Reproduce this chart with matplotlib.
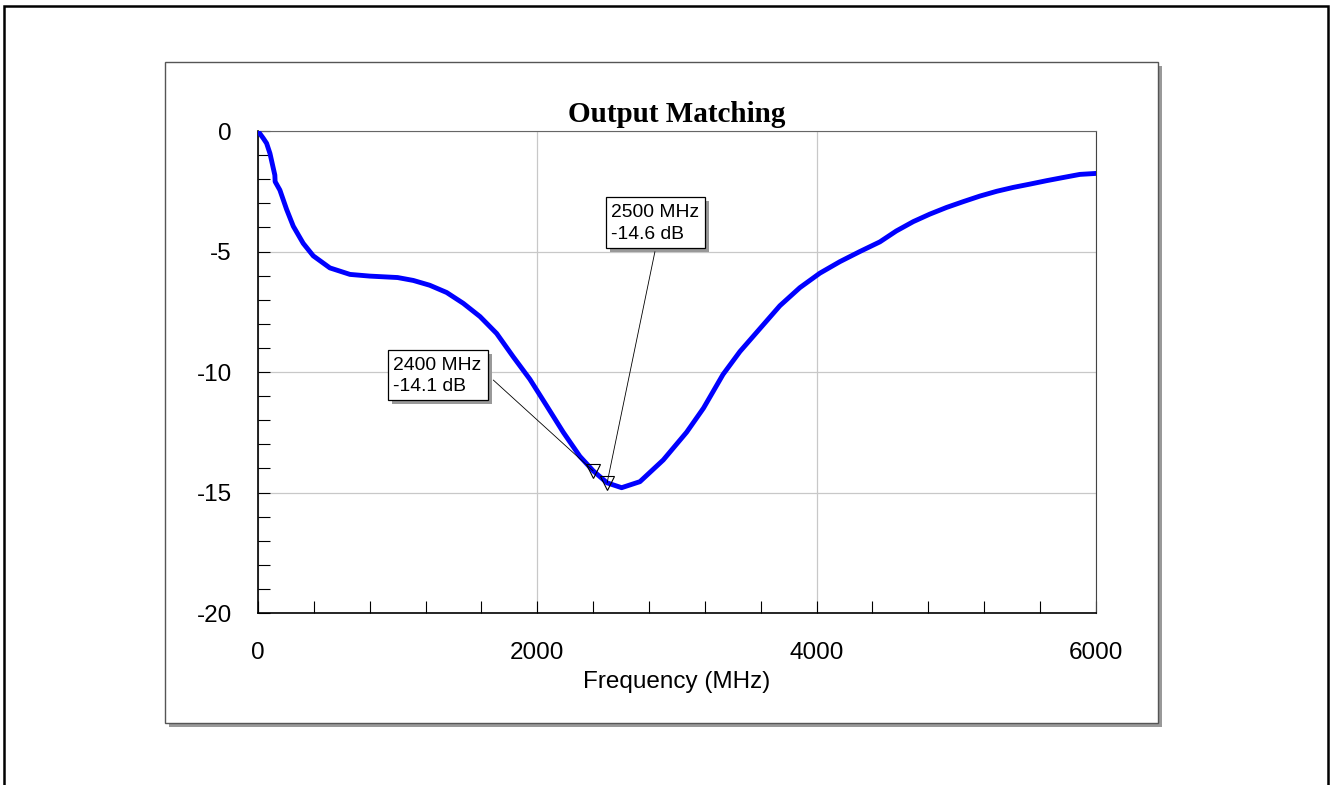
import matplotlib.pyplot as plt
from matplotlib.patches import Rectangle
from matplotlib.ticker import MultipleLocator
from matplotlib.transforms import offset_copy

plt.rcParams['font.family'] = ['Liberation Sans', 'DejaVu Sans']
plt.rcParams['axes.unicode_minus'] = False

# output return loss
freq = [0, 38, 62, 86, 110, 121, 123, 157, 205, 253, 324, 396, 515, 659, 800,
        1000, 1112, 1230, 1351, 1470, 1590, 1709, 1828, 1947, 2067, 2186,
        2305, 2400, 2500, 2604, 2735, 2902, 3069, 3190, 3260, 3330, 3451, 3594,
        3737, 3880, 4023, 4167, 4310, 4453, 4570, 4692, 4810, 4931, 5050,
        5169, 5290, 5408, 5530, 5647, 5765, 5885, 6000]
s22 = [0.0, -0.3, -0.51, -0.93, -1.55, -1.83, -2.1, -2.45, -3.25, -3.95, -4.66,
       -5.18, -5.68, -5.95, -6.02, -6.08, -6.2, -6.4, -6.7, -7.15, -7.7, -8.4,
       -9.37, -10.3, -11.4, -12.5, -13.5, -14.1, -14.6, -14.8, -14.55, -13.65,
       -12.5, -11.5, -10.8, -10.1, -9.15, -8.2, -7.25, -6.5, -5.9, -5.42, -5.0,
       -4.6, -4.15, -3.76, -3.45, -3.17, -2.93, -2.70, -2.50, -2.34, -2.2, -2.06,
       -1.93, -1.80, -1.76]

mark_freq = [2400, 2500]
mark_db = [-14.1, -14.6]

xticks = [0, 2000, 4000, 6000]
yticks = [0, -5, -10, -15, -20]

fig = plt.figure(figsize=(13.31, 7.85), dpi=100)

# outer frame and the grey panel with its drop shadow
fig.patches.append(Rectangle((0.003, -0.02), 0.9947, 1.0124, transform=fig.transFigure,
                             fill=False, ec='black', lw=1.8, zorder=-1))
shadow_tr = offset_copy(fig.transFigure, fig, x=4, y=-4, units='dots')
fig.patches.append(Rectangle((0.12397, 0.07898), 0.74568, 0.84204, transform=shadow_tr,
                             fc='#999999', ec='none', zorder=-3))
fig.patches.append(Rectangle((0.12397, 0.07898), 0.74568, 0.84204, transform=fig.transFigure,
                             fc='white', ec='#555555', lw=1, zorder=-2))

ax = fig.add_axes([0.1938, 0.2191, 0.6296, 0.6140])
ax.plot(freq, s22, color='#0000ff', lw=3.5, solid_joinstyle='round', zorder=3)
ax.plot(mark_freq, mark_db, 'v', ms=9.5, mfc='none', mec='black', mew=0.8, zorder=4)

ax.set_xlim(0, 6000)
ax.set_ylim(-20, 0)
ax.set_xticks(xticks)
ax.set_yticks(yticks)
ax.xaxis.set_minor_locator(MultipleLocator(400))
ax.yaxis.set_minor_locator(MultipleLocator(1))
ax.grid(which='major', color='#c8c8c8', lw=0.9)
ax.set_axisbelow(True)
ax.tick_params(which='both', direction='in', length=8.6, width=0.8, color='black',
               top=False, right=False, labelsize=17.5)
ax.tick_params(axis='y', which='both', pad=18.7)
ax.tick_params(axis='x', which='both', pad=21)

for s in ['left', 'bottom']:
    ax.spines[s].set_color('black')
    ax.spines[s].set_linewidth(1.2)
ax.spines['top'].set_color('#666666')
ax.spines['right'].set_color('#444444')

ax.set_title('Output Matching', fontfamily='Liberation Serif', fontweight='bold',
             fontsize=21, pad=6.7)
ax.set_xlabel('Frequency (MHz)', fontsize=17.5, labelpad=5)

# marker readout boxes
box_pos = [(0.1551, 0.4419, 0.1194, 0.1037), (0.4149, 0.7566, 0.1185, 0.1071)]
leader_from = [(0.2808, 0.4834), (0.4737, 0.7496)]
box_shadow = offset_copy(ax.transAxes, fig, x=4, y=-4, units='dots')
text_tr = offset_copy(ax.transAxes, fig, x=5, y=-1, units='dots')
for i in range(len(mark_freq)):
    bx, by, bw, bh = box_pos[i]
    ax.add_patch(Rectangle((bx, by), bw, bh, transform=box_shadow, fc='#999999',
                           ec='none', zorder=5, clip_on=False))
    ax.add_patch(Rectangle((bx, by), bw, bh, transform=ax.transAxes, fc='white',
                           ec='black', lw=0.9, zorder=6, clip_on=False))
    ax.text(bx, by + bh / 2, '{} MHz\n{} dB'.format(mark_freq[i], mark_db[i]),
            transform=text_tr, ha='left', va='center', fontsize=13.9,
            linespacing=1.35, zorder=7)
    ax.annotate('', xy=(mark_freq[i], mark_db[i]), xycoords='data',
                xytext=leader_from[i], textcoords='axes fraction',
                arrowprops=dict(arrowstyle='-', lw=0.6, color='black',
                                shrinkA=0, shrinkB=0), zorder=5)

fig.savefig('out.png', dpi=100)
